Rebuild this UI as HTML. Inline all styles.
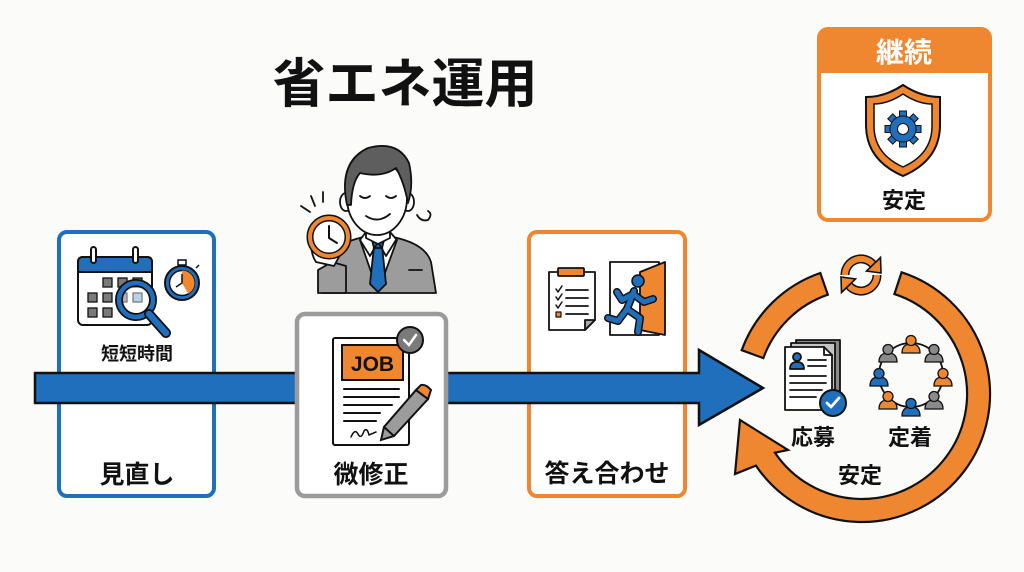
<!DOCTYPE html>
<html><head><meta charset="utf-8">
<style>
html,body{margin:0;padding:0;background:#fbfbfa;}
svg{display:block;}
text{font-family:"Liberation Sans","Noto Sans CJK JP",sans-serif;font-weight:700;}
</style></head>
<body>
<svg width="1024" height="572" viewBox="0 0 1024 572" xmlns="http://www.w3.org/2000/svg">
<rect width="1024" height="572" fill="#fbfbfa"/>

<!-- Title -->
<text x="405" y="102" font-size="53" text-anchor="middle" fill="#111">省エネ運用</text>

<!-- Top right box -->
<rect x="819" y="29" width="171" height="191" rx="9" fill="#fff" stroke="#ef8730" stroke-width="4"/>
<path d="M819,73 L819,38 Q819,29 828,29 L981,29 Q990,29 990,38 L990,73 Z" fill="#ef8730"/>
<text x="904" y="62" font-size="28" text-anchor="middle" fill="#fff">継続</text>
<path d="M903,85 Q885,97 866,97 L866,125 Q866,160 903,176 Q940,160 940,125 L940,97 Q921,97 903,85 Z" fill="#ef8730" stroke="#111" stroke-width="2"/>
<path d="M903,94 Q888,104 874,104 L874,126 Q874,154 903,167 Q932,154 932,126 L932,104 Q918,104 903,94 Z" fill="#fff" stroke="#111" stroke-width="1.5"/>
<g transform="translate(903,129)" fill="#1f6fbd" stroke="#111" stroke-width="1">
  <rect x="-3.5" y="-18" width="7" height="7" transform="rotate(0)"/>
  <rect x="-3.5" y="-18" width="7" height="7" transform="rotate(45)"/>
  <rect x="-3.5" y="-18" width="7" height="7" transform="rotate(90)"/>
  <rect x="-3.5" y="-18" width="7" height="7" transform="rotate(135)"/>
  <rect x="-3.5" y="-18" width="7" height="7" transform="rotate(180)"/>
  <rect x="-3.5" y="-18" width="7" height="7" transform="rotate(225)"/>
  <rect x="-3.5" y="-18" width="7" height="7" transform="rotate(270)"/>
  <rect x="-3.5" y="-18" width="7" height="7" transform="rotate(315)"/>
  <circle r="13"/>
  <circle r="5.5" fill="#fff"/>
</g>
<text x="904" y="208" font-size="22" text-anchor="middle" fill="#111">安定</text>

<!-- Person -->
<g stroke="#111" stroke-width="1.8" stroke-linejoin="round" stroke-linecap="round">
  <path d="M322,293 L326,262 Q332,246 356,239 L378,233 L401,239 Q426,246 431,262 L436,293 Z" fill="#9c9c9c"/>
  <path d="M360,240 L378,292 L397,240 L390,232 L366,232 Z" fill="#fff"/>
  <path d="M374,246 L382,246 L386,284 L378,292 L370,284 Z" fill="#1f6fbd"/>
  <path d="M372,240 L384,240 L382,248 L374,248 Z" fill="#1f6fbd"/>
  <path d="M360,240 L370,256 L378,242 L386,256 L396,240" fill="none"/>
  <line x1="409" y1="270" x2="422" y2="270"/>
  <path d="M366,222 L366,238 L378,244 L390,238 L390,222 Z" fill="#fff"/>
  <ellipse cx="346" cy="202" rx="6" ry="9" fill="#fff"/>
  <ellipse cx="408" cy="202" rx="6" ry="9" fill="#fff"/>
  <ellipse cx="377" cy="198" rx="30" ry="37" fill="#fff"/>
  <path d="M347,205 Q338,162 368,148 Q398,140 409,163 Q414,185 408,203 Q404,182 396,168 Q382,178 360,173 Q352,182 351,205 Z" fill="#5e5e5e"/>
  <path d="M360,196 Q365,200 370,196" fill="none"/>
  <path d="M386,196 Q391,200 396,196" fill="none"/>
  <path d="M366,216 Q378,224 390,214" fill="none"/>
  <path d="M318,293 L318,270 L332,262 L346,266 L346,293 Z" fill="#9c9c9c"/>
  <path d="M314,232 Q308,250 316,262 L334,266 L340,255 L326,236 Z" fill="#fff"/>
  <circle cx="329" cy="237" r="19" fill="#fff" stroke="#111" stroke-width="7"/>
  <circle cx="329" cy="237" r="19" fill="none" stroke="#ef8730" stroke-width="4"/>
  <path d="M329,226 L329,238 L337,243" fill="none" stroke-width="2"/>
  <line x1="301" y1="206" x2="310" y2="212"/>
  <line x1="311" y1="196" x2="315" y2="206"/>
  <line x1="323" y1="192" x2="323" y2="202"/>
  <path d="M417,215 Q421,222 428,220 Q433,214 428,211" fill="none"/>
</g>

<!-- Box 1 -->
<rect x="59" y="232" width="155" height="264" rx="8" fill="#fff" stroke="#1f6fbd" stroke-width="4"/>
<!-- Box 3 -->
<rect x="529" y="232" width="156" height="264" rx="8" fill="#fff" stroke="#ef8730" stroke-width="4"/>

<!-- Blue arrow band -->
<path d="M35,373 L699,373 L699,350 L763,388 L699,425 L699,403 L35,403 Z" fill="#1f6fbd" stroke="#111" stroke-width="2.5" stroke-linejoin="miter"/>

<!-- Box 2 (on top of band) -->
<rect x="297" y="314" width="149" height="182" rx="8" fill="#fff" stroke="#9b9b9b" stroke-width="4.5"/>

<!-- Calendar icon -->
<g stroke="#111" stroke-width="2">
  <rect x="78" y="257" width="74" height="68" rx="5" fill="#fff"/>
  <path d="M78,272 L78,262 Q78,257 83,257 L147,257 Q152,257 152,262 L152,272 Z" fill="#1f6fbd"/>
  <rect x="91" y="247" width="5" height="16" rx="2.5" fill="#fff"/>
  <rect x="133" y="247" width="5" height="16" rx="2.5" fill="#fff"/>
  <g stroke-width="1.3" fill="#7a7a7a">
    <rect x="103" y="278" width="9" height="9"/><rect x="118" y="278" width="9" height="9"/><rect x="133" y="278" width="9" height="9"/>
    <rect x="88" y="293" width="9" height="9"/><rect x="103" y="293" width="9" height="9"/><rect x="118" y="293" width="9" height="9"/><rect x="133" y="293" width="9" height="9" fill="#7fb0d8"/>
    <rect x="88" y="308" width="9" height="9"/><rect x="103" y="308" width="9" height="9"/>
  </g>
</g>
<circle cx="136" cy="300" r="17" fill="#fff" fill-opacity="0.45" stroke="#111" stroke-width="8"/>
<circle cx="136" cy="300" r="17" fill="none" stroke="#1f6fbd" stroke-width="4.5"/>
<line x1="149" y1="314" x2="166" y2="333" stroke="#111" stroke-width="10" stroke-linecap="round"/>
<line x1="149" y1="314" x2="166" y2="333" stroke="#1f6fbd" stroke-width="6.5" stroke-linecap="round"/>
<!-- stopwatch -->
<g stroke="#111" stroke-width="1.5">
  <rect x="178" y="260" width="8" height="5" fill="#fff"/>
  <line x1="196" y1="268" x2="199" y2="265"/>
  <circle cx="182" cy="283" r="17" fill="#1f6fbd" stroke-width="2"/>
  <circle cx="182" cy="283" r="12.5" fill="#fff"/>
  <path d="M182,283 L182,270.5 A12.5 12.5 0 0 1 188.3,293.8 Z" fill="#ef8730" stroke="none"/>
  <path d="M182,274 L182,283 L176,287" fill="none"/>
</g>
<text x="137" y="360" font-size="18" text-anchor="middle" fill="#111">短短時間</text>
<text x="137" y="483" font-size="25" text-anchor="middle" fill="#111">見直し</text>

<!-- Document icon (box 2) -->
<g stroke="#111" stroke-width="2" stroke-linecap="round">
  <rect x="333" y="338" width="76" height="107" rx="2" fill="#fff"/>
  <rect x="342" y="345" width="61" height="35" fill="#ef8730"/>
  <line x1="344" y1="389" x2="399" y2="389"/>
  <line x1="344" y1="397" x2="399" y2="397"/>
  <line x1="344" y1="405" x2="392" y2="405"/>
  <line x1="344" y1="413" x2="380" y2="413"/>
  <line x1="344" y1="421" x2="376" y2="421"/>
  <path d="M351,437 Q355,428 358,434 Q361,440 364,431 Q367,427 369,435 L376,432" fill="none" stroke-width="1.5"/>
  <path d="M416,390 L428,399 L394,436 L381,440 L384,427 Z" fill="#9c9c9c"/>
  <path d="M416,390 L421,385 Q426,384 431,390 L428,399 Z" fill="#ef8730"/>
  <path d="M384,427 L394,436" fill="none"/>
  <circle cx="410" cy="340" r="13" fill="#7a7a7a"/>
  <path d="M404,340 L409,345 L416,335" fill="none" stroke="#fff" stroke-width="2.5"/>
</g>
<text x="372.5" y="371" font-size="21" text-anchor="middle" fill="#111">JOB</text>
<text x="371" y="483" font-size="25" text-anchor="middle" fill="#111">微修正</text>

<!-- Clipboard & exit (box 3) -->
<g stroke="#111" stroke-width="1.8" stroke-linecap="round" stroke-linejoin="round">
  <path d="M549,272 L595,272 L595,320 L585,330 L549,330 Z" fill="#fff"/>
  <path d="M595,320 L585,320 L585,330 Z" fill="#aaa"/>
  <rect x="558" y="268" width="26" height="8" rx="1" fill="#ef8730"/>
  <path d="M556,289 L558,292 L562,286" fill="none" stroke-width="1.5"/>
  <path d="M556,297 L558,300 L562,294" fill="none" stroke-width="1.5"/>
  <path d="M556,305 L558,308 L562,302" fill="none" stroke-width="1.5"/>
  <rect x="556" y="312" width="5" height="5" fill="#ef8730" stroke-width="1.2"/>
  <line x1="566" y1="290" x2="588" y2="290"/>
  <line x1="566" y1="298" x2="588" y2="298"/>
  <line x1="566" y1="306" x2="588" y2="306"/>
  <line x1="566" y1="314" x2="588" y2="314"/>
  <rect x="610" y="262" width="49" height="73" fill="#fff"/>
  <path d="M640,272 L665,262 L665,335 L640,330 Z" fill="#ef8730"/>
</g>
<g stroke-linecap="round" stroke-linejoin="round" fill="none">
  <g stroke="#111" stroke-width="8">
    <path d="M634,291 L627,309"/><path d="M633,294 L644,302 L653,299"/><path d="M633,294 L622,300 L617,292"/>
    <path d="M627,309 L640,318 L638,332"/><path d="M627,309 L618,321 L608,318"/>
  </g>
  <g stroke="#1f6fbd" stroke-width="5">
    <path d="M634,291 L627,309"/><path d="M633,294 L644,302 L653,299"/><path d="M633,294 L622,300 L617,292"/>
    <path d="M627,309 L640,318 L638,332"/><path d="M627,309 L618,321 L608,318"/>
  </g>
</g>
<circle cx="638" cy="281" r="6" fill="#1f6fbd" stroke="#111" stroke-width="1.5"/>
<text x="607" y="482" font-size="25" text-anchor="middle" fill="#111">答え合わせ</text>

<!-- Cycle ring -->
<g fill="#ef8730" stroke="#111" stroke-width="2.2" stroke-linejoin="miter">
  <path d="M741.7,350.2 A128 128 0 0 1 820.3,273.0 L827.8,294.7 A105 105 0 0 0 763.3,358.1 Z"/>
  <path d="M901.6,272.3 A128 128 0 1 1 755.9,465.6 L735,474 L740,420 L788,450 L775.0,452.7 A105 105 0 1 0 894.4,294.1 Z"/>
</g>
<!-- sync icon -->
<g fill="none" stroke-linecap="butt">
  <path d="M845,275 A16 16 0 0 1 873.3,264.7" stroke="#111" stroke-width="9"/>
  <path d="M845,275 A16 16 0 0 1 873.3,264.7" stroke="#ef8730" stroke-width="6"/>
  <path d="M877,275 A16 16 0 0 1 848.7,285.3" stroke="#111" stroke-width="9"/>
  <path d="M877,275 A16 16 0 0 1 848.7,285.3" stroke="#ef8730" stroke-width="6"/>
</g>
<g fill="#ef8730" stroke="#111" stroke-width="1.6" stroke-linejoin="miter">
  <path d="M880.5,257.5 L866.5,271 L881,273 Z"/>
  <path d="M841.5,292.5 L855.5,279 L841,277 Z"/>
</g>

<!-- 応募 icon -->
<g stroke="#111" stroke-width="1.8" stroke-linecap="round" stroke-linejoin="round">
  <rect x="796" y="340" width="44" height="62" fill="#8a8a8a"/>
  <rect x="791" y="343" width="44" height="63" fill="#c4c4c4"/>
  <path d="M785,347 L824,347 L832,355 L832,410 L785,410 Z" fill="#fff"/>
  <path d="M824,347 L824,355 L832,355" fill="none"/>
  <circle cx="797" cy="357" r="4" fill="#1f6fbd"/>
  <path d="M790,369 Q790,362 797,362 Q804,362 804,369 Z" fill="#1f6fbd"/>
  <line x1="808" y1="360" x2="826" y2="360"/>
  <line x1="808" y1="366" x2="826" y2="366"/>
  <line x1="790" y1="376" x2="826" y2="376"/>
  <line x1="790" y1="383" x2="826" y2="383"/>
  <line x1="790" y1="390" x2="822" y2="390"/>
  <line x1="790" y1="397" x2="816" y2="397"/>
  <circle cx="833" cy="403" r="13" fill="#1f6fbd" stroke-width="2"/>
  <path d="M827,403 L831,407 L839,398" fill="none" stroke="#fff" stroke-width="2.8"/>
</g>
<text x="813" y="445" font-size="22" text-anchor="middle" fill="#111">応募</text>

<!-- 定着 icon: people ring -->
<circle cx="911" cy="375" r="32" fill="none" stroke="#111" stroke-width="1.8"/>
<g stroke="#111" stroke-width="1.3">
  <g transform="translate(911,344)" fill="#ef8730"><path d="M-9,9 Q-9,0 0,0 Q9,0 9,9 Z"/><circle cy="-3.5" r="5"/></g>
  <g transform="translate(934,353)" fill="#8a8a8a"><path d="M-9,9 Q-9,0 0,0 Q9,0 9,9 Z"/><circle cy="-3.5" r="5"/></g>
  <g transform="translate(943,377)" fill="#ef8730"><path d="M-9,9 Q-9,0 0,0 Q9,0 9,9 Z"/><circle cy="-3.5" r="5"/></g>
  <g transform="translate(934,400)" fill="#8a8a8a"><path d="M-9,9 Q-9,0 0,0 Q9,0 9,9 Z"/><circle cy="-3.5" r="5"/></g>
  <g transform="translate(911,407)" fill="#1f6fbd"><path d="M-9,9 Q-9,0 0,0 Q9,0 9,9 Z"/><circle cy="-3.5" r="5"/></g>
  <g transform="translate(888,400)" fill="#ef8730"><path d="M-9,9 Q-9,0 0,0 Q9,0 9,9 Z"/><circle cy="-3.5" r="5"/></g>
  <g transform="translate(879,377)" fill="#1f6fbd"><path d="M-9,9 Q-9,0 0,0 Q9,0 9,9 Z"/><circle cy="-3.5" r="5"/></g>
  <g transform="translate(888,353)" fill="#8a8a8a"><path d="M-9,9 Q-9,0 0,0 Q9,0 9,9 Z"/><circle cy="-3.5" r="5"/></g>
</g>
<text x="910" y="445" font-size="22" text-anchor="middle" fill="#111">定着</text>
<text x="860" y="483" font-size="22" text-anchor="middle" fill="#111">安定</text>
</svg>
</body></html>
